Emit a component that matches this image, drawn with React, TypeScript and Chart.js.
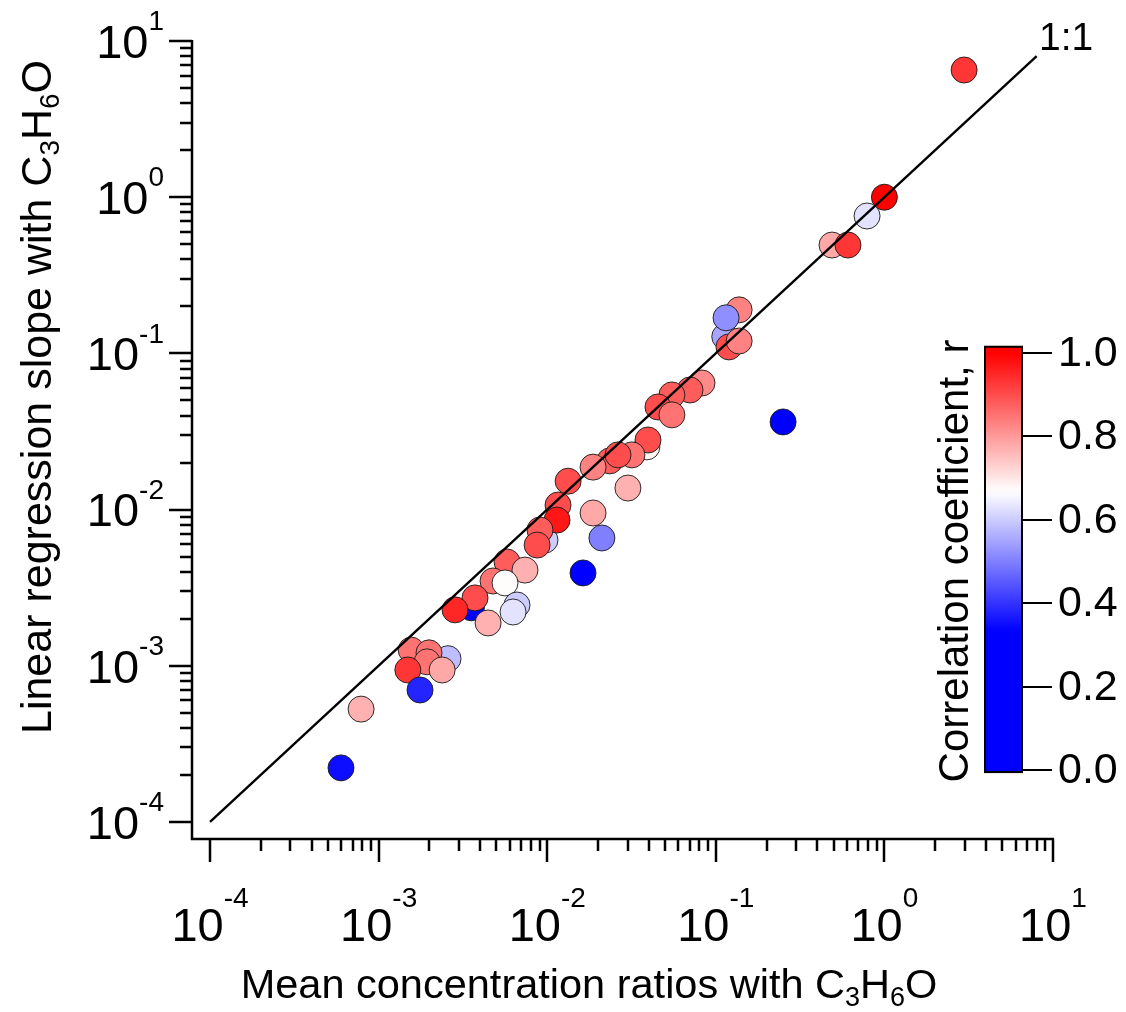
import { useEffect, useRef } from "react";
import { Chart, registerables } from "chart.js";

Chart.register(...registerables);

// Mean concentration ratio of each species to C3H6O (x)
const meanRatio = [
  0.039, 0.113, 0.0097, 0.00355, 0.0235,
  2.97, 1.0, 0.789, 0.489, 0.608,
  0.1375, 0.115, 0.1197, 0.1375,
  0.0828, 0.0703, 0.0549, 0.0454, 0.0549, 0.0396, 0.0318, 0.0263,
  0.0187, 0.0133, 0.0301, 0.01159, 0.01143, 0.0187, 0.0211, 0.0163,
  0.00906, 0.00871, 0.00578, 0.00738, 0.00477, 0.00562, 0.00662, 0.00627,
  0.00373, 0.00284, 0.00446, 0.00258, 0.00156, 0.00199, 0.00194, 0.00149,
  0.00238, 0.00176, 0.000787, 0.000598, 0.2506,
];

// Linear regression slope against C3H6O (y)
const regressionSlope = [
  0.0252, 0.128, 0.00638, 0.00235, 0.0205,
  6.52, 1.0, 0.758, 0.494, 0.494,
  0.19, 0.169, 0.11, 0.12,
  0.0646, 0.0583, 0.0542, 0.0454, 0.0404, 0.0279, 0.0224, 0.0224,
  0.0187, 0.0152, 0.01374, 0.01069, 0.00857, 0.00951, 0.00658, 0.00393,
  0.0074, 0.00593, 0.00462, 0.0041, 0.00349, 0.00339, 0.00245, 0.00221,
  0.00272, 0.00228, 0.00188, 0.00111, 0.00126, 0.00121, 0.00106, 0.00094,
  0.00094, 0.0007, 0.000528, 0.000222, 0.0364,
];

// Correlation coefficient r of each regression
const correlation = [
  0.68, 0.55, 0.6, 0.3, 0.88,
  0.93, 1.0, 0.63, 0.78, 0.93,
  0.83, 0.52, 0.9, 0.83,
  0.82, 0.88, 0.88, 0.9, 0.85, 0.9, 0.85, 0.9,
  0.83, 0.9, 0.77, 0.9, 0.97, 0.78, 0.5, 0.3,
  0.88, 0.9, 0.88, 0.77, 0.85, 0.67, 0.6, 0.63,
  0.9, 0.95, 0.77, 0.58, 0.85, 0.85, 0.85, 0.93,
  0.78, 0.38, 0.77, 0.35, 0.2,
];

const oneToOneLine = [1e-4, 8];
const decadeExponents = [-4, -3, -2, -1, 0, 1];
const colorbarTicks = [0.0, 0.2, 0.4, 0.6, 0.8, 1.0];

const FONT = '"Liberation Sans", Arial, Helvetica, sans-serif';

// blue below 1/3, blue -> white up to 2/3, white -> red up to 1
function corrRGB(r: number): [number, number, number] {
  if (r <= 1 / 3) return [0, 0, 255];
  if (r < 2 / 3) {
    const t = (r - 1 / 3) * 3;
    return [Math.round(255 * t), Math.round(255 * t), 255];
  }
  const t = Math.min(1, (r - 2 / 3) * 3);
  return [255, Math.round(255 * (1 - t)), Math.round(255 * (1 - t))];
}
function corrColor(r: number) {
  const [a, b, c] = corrRGB(r);
  return `rgb(${a},${b},${c})`;
}

type Part = { t: string; s: number; dy?: number };

function richWidth(ctx: CanvasRenderingContext2D, parts: Part[]) {
  let w = 0;
  for (const p of parts) {
    ctx.font = `${p.s}px ${FONT}`;
    w += ctx.measureText(p.t).width;
  }
  return w;
}
function drawRich(ctx: CanvasRenderingContext2D, parts: Part[], x: number, y: number) {
  let cx = x;
  ctx.textAlign = "left";
  ctx.textBaseline = "alphabetic";
  for (const p of parts) {
    ctx.font = `${p.s}px ${FONT}`;
    ctx.fillText(p.t, cx, y + (p.dy || 0));
    cx += ctx.measureText(p.t).width;
  }
}

const TICK_FONT = 47;
const EXP_FONT = 28;

const decorPlugin = {
  id: "decor",
  afterDraw(chart: any) {
    const { ctx, chartArea, scales } = chart;
    const xs = scales.x;
    const ys = scales.y;
    ctx.save();
    ctx.fillStyle = "#000";
    ctx.strokeStyle = "#000";
    ctx.lineWidth = 2.5;
    ctx.lineCap = "butt";

    // axis lines
    ctx.beginPath();
    ctx.moveTo(chartArea.left, chartArea.top - 1);
    ctx.lineTo(chartArea.left, chartArea.bottom);
    ctx.lineTo(chartArea.right + 1, chartArea.bottom);
    ctx.stroke();

    // log ticks
    ctx.beginPath();
    for (const e of decadeExponents) {
      const last = e === decadeExponents[decadeExponents.length - 1];
      for (let m = 1; m <= (last ? 1 : 9); m++) {
        const v = m * Math.pow(10, e);
        const len = m === 1 ? 23 : 12;
        const px = Math.round(xs.getPixelForValue(v));
        ctx.moveTo(px, chartArea.bottom);
        ctx.lineTo(px, chartArea.bottom + len);
        const py = Math.round(ys.getPixelForValue(v));
        ctx.moveTo(chartArea.left, py);
        ctx.lineTo(chartArea.left - len, py);
      }
    }
    ctx.stroke();

    // decade labels
    const digitH = TICK_FONT * 0.716;
    for (const e of decadeExponents) {
      const parts: Part[] = [
        { t: "10", s: TICK_FONT },
        { t: String(e), s: EXP_FONT, dy: -digitH },
      ];
      const w = richWidth(ctx, parts);
      const px = xs.getPixelForValue(Math.pow(10, e));
      drawRich(ctx, parts, px - w / 2, 907 + digitH);
      const py = ys.getPixelForValue(Math.pow(10, e));
      const yparts: Part[] = [
        { t: "10", s: TICK_FONT },
        { t: String(e), s: EXP_FONT, dy: -digitH + 6 },
      ];
      const wy = richWidth(ctx, yparts);
      drawRich(ctx, yparts, 164 - wy, py + digitH / 2);
    }

    // axis titles
    const xTitle: Part[] = [
      { t: "Mean concentration ratios with C", s: 41.5 },
      { t: "3", s: 27, dy: 8 },
      { t: "H", s: 41.5 },
      { t: "6", s: 27, dy: 8 },
      { t: "O", s: 41.5 },
    ];
    const xw = richWidth(ctx, xTitle);
    drawRich(ctx, xTitle, 589 - xw / 2, 998);

    const yTitle: Part[] = [
      { t: "Linear regression slope with C", s: 43 },
      { t: "3", s: 28, dy: 8 },
      { t: "H", s: 43 },
      { t: "6", s: 28, dy: 8 },
      { t: "O", s: 43 },
    ];
    const yw = richWidth(ctx, yTitle);
    ctx.save();
    ctx.translate(51, 397);
    ctx.rotate(-Math.PI / 2);
    drawRich(ctx, yTitle, -yw / 2, 0);
    ctx.restore();

    // 1:1 label
    ctx.font = `39px ${FONT}`;
    ctx.textAlign = "left";
    ctx.textBaseline = "alphabetic";
    ctx.fillText("1:1", 1039, 50);

    // colour bar
    const cbL = 985;
    const cbR = 1022;
    const v0 = 770;
    const v1 = 353;
    const yOf = (v: number) => v0 + (v1 - v0) * v;
    const topV = 1.015;
    const botV = -0.005;
    const grad = ctx.createLinearGradient(0, yOf(botV), 0, yOf(topV));
    for (let i = 0; i <= 60; i++) {
      const v = i / 60;
      grad.addColorStop(v, corrColor(botV + (topV - botV) * v));
    }
    ctx.fillStyle = grad;
    ctx.fillRect(cbL, yOf(topV), cbR - cbL, yOf(botV) - yOf(topV));
    ctx.lineWidth = 2;
    ctx.strokeRect(cbL, yOf(topV), cbR - cbL, yOf(botV) - yOf(topV));
    ctx.beginPath();
    ctx.fillStyle = "#000";
    ctx.font = `43px ${FONT}`;
    ctx.textBaseline = "middle";
    ctx.textAlign = "left";
    for (const t of colorbarTicks) {
      const y = Math.round(yOf(t));
      ctx.moveTo(cbR, y);
      ctx.lineTo(cbR + 30, y);
      ctx.fillText(t.toFixed(1), 1058, y + 1);
    }
    ctx.stroke();

    ctx.save();
    ctx.translate(968, 561);
    ctx.rotate(-Math.PI / 2);
    ctx.font = `42px ${FONT}`;
    ctx.textAlign = "center";
    ctx.textBaseline = "alphabetic";
    ctx.fillText("Correlation coefficient, r", 0, 0);
    ctx.restore();

    ctx.restore();
  },
};

export default function App() {
  const ref = useRef<HTMLCanvasElement | null>(null);

  useEffect(() => {
    if (!ref.current) return;
    const points = meanRatio.map((x, i) => ({ x, y: regressionSlope[i] }));
    const chart = new Chart(ref.current, {
      type: "scatter",
      data: {
        datasets: [
          {
            type: "line",
            label: "1:1",
            data: oneToOneLine.map((v) => ({ x: v, y: v })),
            borderColor: "#000",
            borderWidth: 2.4,
            pointRadius: 0,
            fill: false,
            order: 0,
          } as any,
          {
            label: "species",
            data: points,
            pointRadius: 13,
            pointHoverRadius: 13,
            pointBackgroundColor: correlation.map(corrColor),
            pointBorderColor: "rgba(25,25,25,0.9)",
            pointBorderWidth: 1,
            order: 1,
          },
        ],
      },
      options: {
        animation: false,
        responsive: true,
        maintainAspectRatio: false,
        devicePixelRatio: 1,
        layout: { padding: { left: 192, top: 41, right: 73, bottom: 173 } },
        plugins: {
          legend: { display: false },
          tooltip: { enabled: false },
        },
        scales: {
          x: {
            type: "logarithmic",
            min: Math.pow(10, -4.107),
            max: 10,
            display: false,
          },
          y: {
            type: "logarithmic",
            min: Math.pow(10, -4.109),
            max: 10,
            display: false,
          },
        },
      },
      plugins: [decorPlugin],
    });
    return () => chart.destroy();
  }, []);

  return (
    <div
      style={{
        position: "absolute",
        left: 0,
        top: 0,
        width: 1126,
        height: 1012,
        background: "#fff",
      }}
    >
      <canvas ref={ref} />
    </div>
  );
}
